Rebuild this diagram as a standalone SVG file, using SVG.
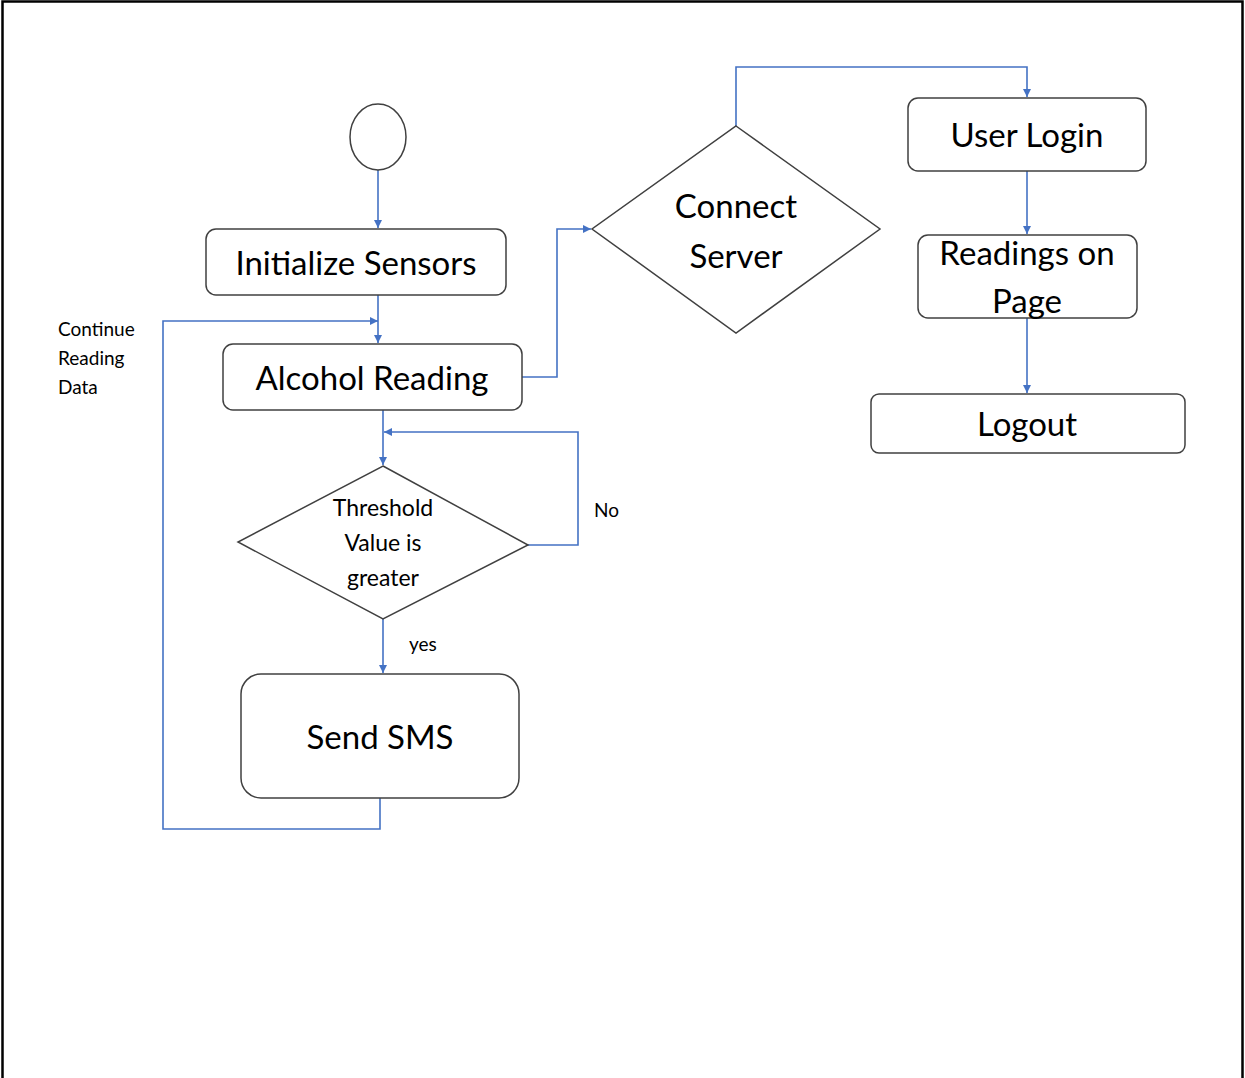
<svg xmlns="http://www.w3.org/2000/svg" width="1245" height="1078" viewBox="0 0 1245 1078">
<defs>
<marker id="ah" viewBox="0 0 10 10" refX="10" refY="5" markerWidth="8" markerHeight="8" markerUnits="userSpaceOnUse" orient="auto">
<path d="M0,0 L10,5 L0,10 z" fill="#4472c4"/>
</marker>
<style>
.box{fill:#fff;stroke:#404040;stroke-width:1.5}
.edge{fill:none;stroke:#4472c4;stroke-width:1.6}
.big{font-family:Lato,"Liberation Sans",sans-serif;font-size:33px;fill:#000;text-anchor:middle}
.mid{font-family:Lato,"Liberation Sans",sans-serif;font-size:23px;fill:#000;text-anchor:middle}
.sm{font-family:Lato,"Liberation Sans",sans-serif;font-size:19px;fill:#000}
</style>
</defs>
<rect x="0" y="0" width="1245" height="1078" fill="#fff"/>
<path d="M2.5,1080 V1.5 H1242.5 V1080" fill="none" stroke="#000" stroke-width="2.5"/>

<g id="connectors">
<path class="edge" d="M378,170 V228" marker-end="url(#ah)"/>
<path class="edge" d="M378,295 V343" marker-end="url(#ah)"/>
<path class="edge" d="M380,798 V829 H163 V321 H378" marker-end="url(#ah)"/>
<path class="edge" d="M383,410 V465" marker-end="url(#ah)"/>
<path class="edge" d="M528,545 H578 V432 H384" marker-end="url(#ah)"/>
<path class="edge" d="M383,619 V673" marker-end="url(#ah)"/>
<path class="edge" d="M522,377 H557 V229 H591" marker-end="url(#ah)"/>
<path class="edge" d="M736,126 V67 H1027 V97" marker-end="url(#ah)"/>
<path class="edge" d="M1027,171 V234" marker-end="url(#ah)"/>
<path class="edge" d="M1027,318 V393" marker-end="url(#ah)"/>
<text class="sm" x="58" y="336">Continue</text>
<text class="sm" x="58" y="365">Reading</text>
<text class="sm" x="58" y="394">Data</text>
<text class="sm" x="594" y="517">No</text>
<text class="sm" x="409" y="651">yes</text>
</g>

<g id="start">
<ellipse class="box" cx="378" cy="137" rx="28" ry="33"/>
</g>
<g id="init">
<rect class="box" x="206" y="229" width="300" height="66" rx="10"/>
<text class="big" x="356" y="275">Initialize Sensors</text>
</g>
<g id="alcohol">
<rect class="box" x="223" y="344" width="299" height="66" rx="10"/>
<text class="big" x="372" y="390">Alcohol Reading</text>
</g>
<g id="threshold">
<polygon class="box" points="383,466 528,545 383,619 238,542"/>
<text class="mid" x="383" y="516">Threshold</text>
<text class="mid" x="383" y="551">Value is</text>
<text class="mid" x="383" y="586">greater</text>
</g>
<g id="sms">
<rect class="box" x="241" y="674" width="278" height="124" rx="20"/>
<text class="big" x="380" y="749">Send SMS</text>
</g>
<g id="connect">
<polygon class="box" points="736,126 880,229 736,333 592,229"/>
<text class="big" x="736" y="218">Connect</text>
<text class="big" x="736" y="268">Server</text>
</g>
<g id="login">
<rect class="box" x="908" y="98" width="238" height="73" rx="10"/>
<text class="big" x="1027" y="147">User Login</text>
</g>
<g id="readings">
<rect class="box" x="918" y="235" width="219" height="83" rx="10"/>
<text class="big" x="1027" y="265">Readings on</text>
<text class="big" x="1027" y="313">Page</text>
</g>
<g id="logout">
<rect class="box" x="871" y="394" width="314" height="59" rx="8"/>
<text class="big" x="1027" y="436">Logout</text>
</g>
</svg>
